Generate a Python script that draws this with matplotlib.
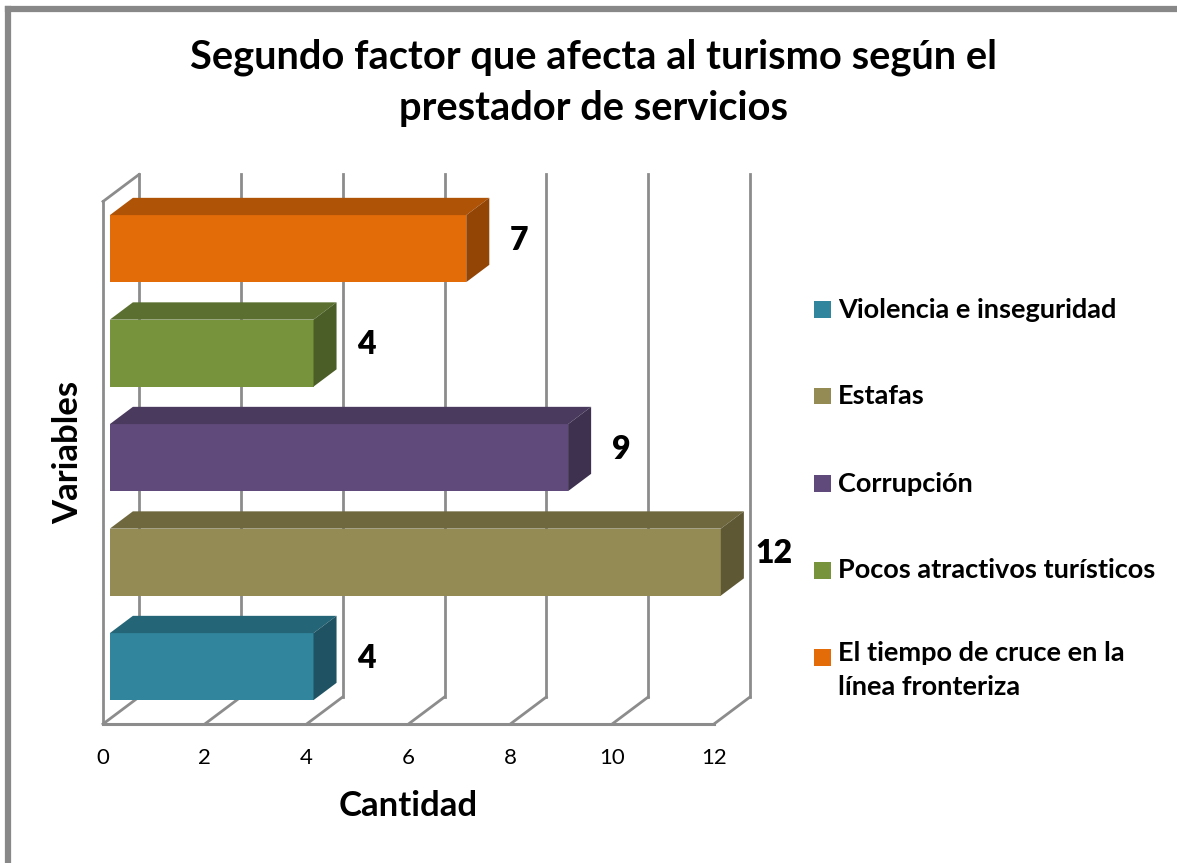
import matplotlib.pyplot as plt
from matplotlib.patches import Polygon, Rectangle

# datos
categorias = ["Violencia e inseguridad", "Estafas", "Corrupción",
              "Pocos atractivos turísticos", "El tiempo de cruce en la\nlínea fronteriza"]
valores = [4, 12, 9, 4, 7]
colores = ["#31859C", "#948A54", "#604A7B", "#77933C", "#E36C09"]
color_top = ["#246677", "#6F683F", "#4A3A5E", "#5B7030", "#AF5307"]
color_lado = ["#1F5262", "#5E5835", "#3E3150", "#4C5E27", "#934506"]
ticks = [0, 2, 4, 6, 8, 10, 12]
titulo = "Segundo factor que afecta al turismo según el\nprestador de servicios"

plt.rcParams['font.family'] = ['Lato', 'DejaVu Sans']

fig = plt.figure(figsize=(11.77, 8.63), dpi=100)
ax = fig.add_axes([0, 0, 1, 1])
# escala: valor 0 -> px 103, valor 12 -> px 714 ; categoria -0.5 -> px 724 (desde arriba)
sx = (714 - 103) / 12.0
sy = 104.5
ax.set_xlim(-103 / sx, (1177 - 103) / sx)
ax.set_ylim(-0.5 - (863 - 724) / sy, -0.5 + 724 / sy)
ax.axis("off")

# profundidad 3D
ddx = 36 / sx
ddy = 27 / sy
d0, d1 = 0.19, 0.83
h = 67 / sy
gris = "#8C8C8C"
ymin, ymax = -0.5, 4.5

# pared y piso
for t in ticks:
    ax.plot([t, t + ddx], [ymin, ymin + ddy], color=gris, lw=2, zorder=1)
    ax.plot([t + ddx, t + ddx], [ymin + ddy, ymax + ddy], color=gris, lw=2, zorder=1)
ax.plot([0, 12], [ymin, ymin], color=gris, lw=2.2, zorder=1)
ax.plot([0, 0], [ymin, ymax], color=gris, lw=2, zorder=1)
ax.plot([0, ddx], [ymax, ymax + ddy], color=gris, lw=2, zorder=1)

# barras
for i, v in enumerate(valores):
    x0, y0 = d0 * ddx, i - h / 2 + d0 * ddy
    dx, dy = (d1 - d0) * ddx, (d1 - d0) * ddy
    ax.add_patch(Polygon([(x0, y0), (x0 + v, y0), (x0 + v, y0 + h), (x0, y0 + h)],
                         closed=True, fc=colores[i], ec="none", zorder=3))
    ax.add_patch(Polygon([(x0, y0 + h), (x0 + v, y0 + h), (x0 + v + dx, y0 + h + dy), (x0 + dx, y0 + h + dy)],
                         closed=True, fc=color_top[i], ec="none", zorder=3))
    ax.add_patch(Polygon([(x0 + v, y0), (x0 + v + dx, y0 + dy), (x0 + v + dx, y0 + h + dy), (x0 + v, y0 + h)],
                         closed=True, fc=color_lado[i], ec="none", zorder=3))
    ax.text(v + x0 + 53 / sx, i + 0.5 * ddy, str(v), ha="center", va="center",
            fontsize=23, fontweight="heavy", zorder=4)

# etiquetas de eje
for t in ticks:
    ax.text(t, ymin - 34 / sy, str(t), ha="center", va="center", fontsize=16)
ax.text(6, ymin - 82 / sy, "Cantidad", ha="center", va="center", fontsize=25, fontweight="bold")
ax.text(-35 / sx, 2.1, "Variables", ha="center", va="center", fontsize=25,
        fontweight="bold", rotation=90)

# titulo
fig.text(594 / 1177, 1 - 83 / 863, titulo, ha="center", va="center", fontsize=28.7,
         fontweight="bold", linespacing=1.45)

# leyenda
ley_y = [310, 396, 484, 570, 657]
for i, cat in enumerate(categorias):
    yy = 1 - ley_y[i] / 863
    fig.patches.append(Rectangle((814 / 1177, yy - 8.5 / 863), 17 / 1177, 17 / 863,
                                 transform=fig.transFigure, fc=colores[i], ec="none"))
    if "\n" in cat:
        fig.text(838 / 1177, yy + 16 / 863, cat, ha="left", va="top", fontsize=19.5,
                 fontweight="bold", linespacing=1.5)
    else:
        fig.text(838 / 1177, yy, cat, ha="left", va="center", fontsize=19.5,
                 fontweight="bold")

# marco
fig.add_artist(plt.Line2D([8 / 1177, 1], [1 - 9 / 863, 1 - 9 / 863], color="#888888", lw=4.5))
fig.add_artist(plt.Line2D([8 / 1177, 8 / 1177], [0, 1 - 9 / 863], color="#888888", lw=4.5))

fig.savefig("out.png", dpi=100, facecolor="white")
